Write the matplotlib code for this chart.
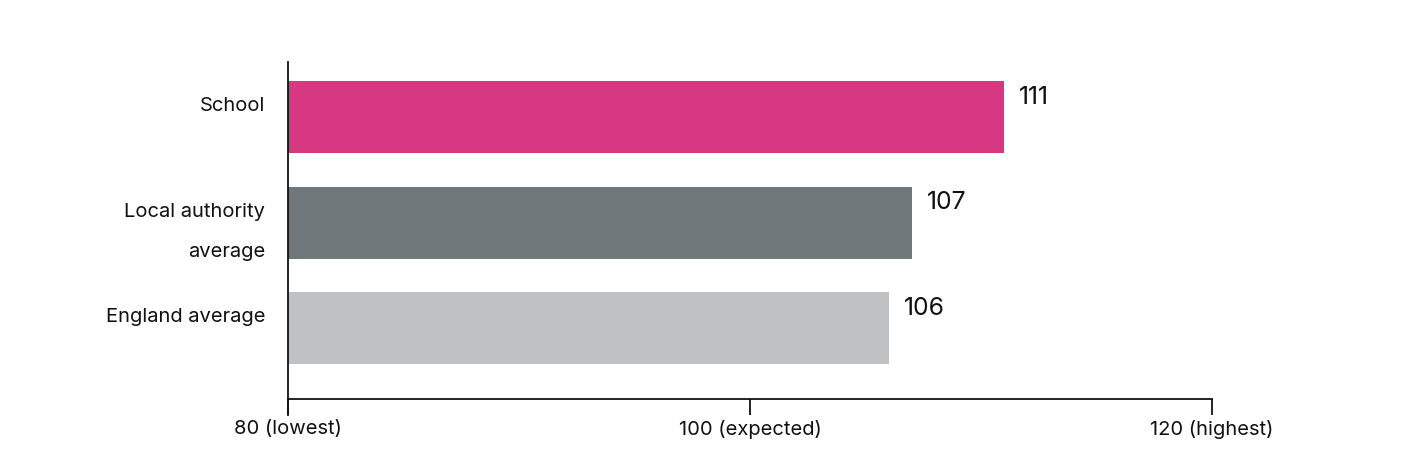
import matplotlib
matplotlib.use("Agg")
import matplotlib.pyplot as plt
import matplotlib.transforms as mtransforms

plt.rcParams['font.family'] = ['Inter', 'DejaVu Sans']

# Data
categories = ['School', 'Local authority\naverage', 'England average']
scores = [111, 107, 106]
bar_colors = ['#D63882', '#70777A', '#C0C1C3']
tick_values = [80, 100, 120]
tick_labels = ['80 (lowest)', '100 (expected)', '120 (highest)']

fig = plt.figure(figsize=(14.04, 4.58), dpi=100)
ax = fig.add_axes([0.2051, 0.1288, 0.6581, 0.7358])

y_pos = list(range(len(categories)))
bar_h = 0.68
ax.barh(y_pos, [s - 80 for s in scores], left=80, height=bar_h, color=bar_colors)

ax.set_xlim(80, 120)
ax.set_ylim(2.67, -0.52)

# value labels just past the end of each bar, near its top edge
for y, s in zip(y_pos, scores):
    ax.annotate(str(s), xy=(s, y - bar_h / 2), xytext=(11, -11.5),
                textcoords='offset points', ha='left', va='center',
                fontsize=17.8, color='#111111')

ax.set_xticks(tick_values, tick_labels)
ax.tick_params(axis='x', length=11.5, width=1.3, pad=3.5, labelsize=14.5, colors='#111111')
ax.set_yticks(y_pos, categories)
ax.tick_params(axis='y', length=0, pad=16.5, labelsize=14.5, colors='#111111')

shift = mtransforms.ScaledTranslation(0, 20 / 100, fig.dpi_scale_trans)
for lab in ax.get_yticklabels():
    lab.set_verticalalignment('top')
    lab.set_linespacing(2.6)
    lab.set_transform(lab.get_transform() + shift)

for side in ['top', 'right']:
    ax.spines[side].set_visible(False)
for side in ['left', 'bottom']:
    ax.spines[side].set_linewidth(1.3)
    ax.spines[side].set_color('#111111')

# left spine runs down to the tick ends
ax.plot([80, 80], [0, -16 / 337], transform=ax.get_xaxis_transform(), color='#111111', lw=1.3, clip_on=False)

fig.savefig('out.png', dpi=100)
